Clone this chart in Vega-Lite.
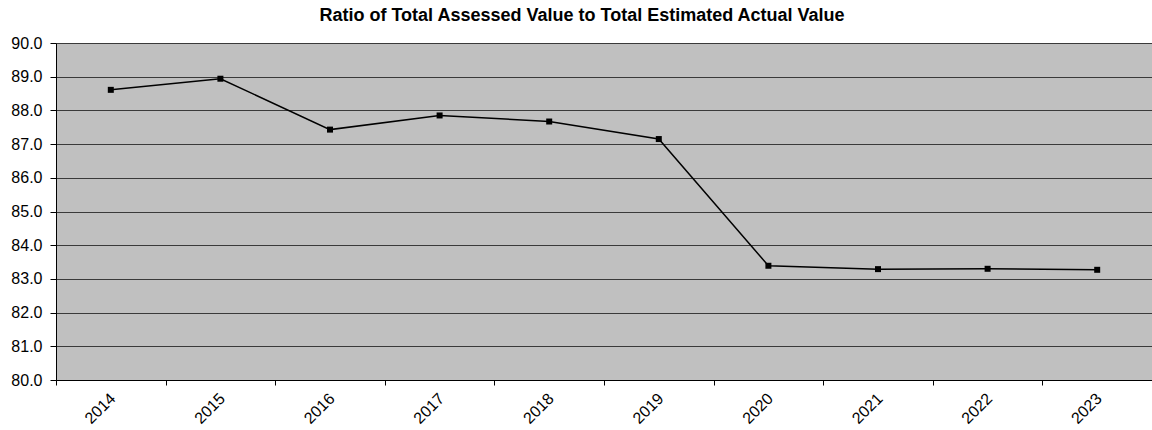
{
  "$schema": "https://vega.github.io/schema/vega-lite/v6.json",
  "autosize": {"type": "none"},
  "padding": {"left": 56, "top": 43, "right": 0, "bottom": 50},
  "width": 1096,
  "height": 337,
  "background": "white",
  "title": {
    "text": "Ratio of Total Assessed Value to Total Estimated Actual Value",
    "font": "Liberation Sans",
    "fontSize": 18,
    "fontWeight": "bold",
    "color": "black",
    "anchor": "middle",
    "offset": 10,
    "dx": -22
  },
  "config": {
    "view": {"fill": "#c0c0c0", "stroke": null},
    "axis": {
      "labelFont": "Liberation Sans",
      "labelColor": "black",
      "domainColor": "black",
      "tickColor": "black",
      "titleFont": "Liberation Sans"
    }
  },
  "data": {
    "values": [
      {"year": "2014", "ratio": 88.61},
      {"year": "2015", "ratio": 88.94},
      {"year": "2016", "ratio": 87.43},
      {"year": "2017", "ratio": 87.85},
      {"year": "2018", "ratio": 87.67},
      {"year": "2019", "ratio": 87.15},
      {"year": "2020", "ratio": 83.39},
      {"year": "2021", "ratio": 83.29},
      {"year": "2022", "ratio": 83.30},
      {"year": "2023", "ratio": 83.27}
    ]
  },
  "encoding": {
    "x": {
      "field": "year",
      "type": "ordinal",
      "scale": {"paddingInner": 0, "paddingOuter": 0},
      "axis": {
        "title": null,
        "labelAngle": -45,
        "labelFontSize": 16,
        "labelOffset": -4,
        "tickBand": "extent",
        "tickSize": 5,
        "grid": false,
        "domainWidth": 1,
        "labelPadding": 5
      }
    },
    "y": {
      "field": "ratio",
      "type": "quantitative",
      "scale": {"domain": [80, 90], "nice": false, "zero": false},
      "axis": {
        "title": null,
        "values": [80, 81, 82, 83, 84, 85, 86, 87, 88, 89, 90],
        "format": ".1f",
        "labelFontSize": 16,
        "grid": true,
        "gridColor": "#3a3a3a",
        "gridWidth": 1.2,
        "gridOpacity": 1,
        "tickSize": 6,
        "labelPadding": 8,
        "domainWidth": 1
      }
    }
  },
  "layer": [
    {
      "mark": {"type": "line", "color": "black", "strokeWidth": 1.5}
    },
    {
      "mark": {"type": "square", "color": "black", "filled": true, "size": 36, "opacity": 1}
    }
  ]
}
